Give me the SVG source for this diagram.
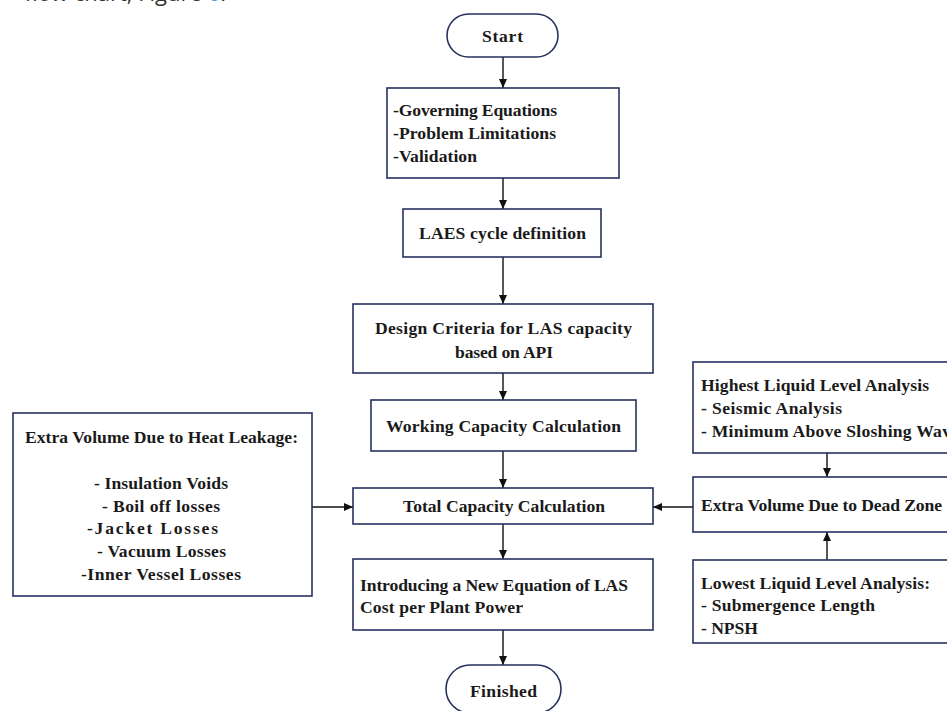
<svg xmlns="http://www.w3.org/2000/svg" width="947" height="711" viewBox="0 0 947 711">
<defs>
<marker id="ah" markerWidth="10" markerHeight="10" refX="9" refY="5" orient="auto" markerUnits="userSpaceOnUse">
<path d="M0,1 L9,5 L0,9 Z" fill="#111"/>
</marker>
<style>
.box{fill:#fff;stroke:#27315f;stroke-width:1.6}
.t{font-family:"Liberation Serif","Times New Roman",serif;font-weight:bold;font-size:17.6px;fill:#1a1a1a}
.c{text-anchor:middle}
.ln{stroke:#111;stroke-width:1.4;fill:none;marker-end:url(#ah)}
</style>
</defs>
<rect width="947" height="711" fill="#fff"/>
<text x="226" y="1" text-anchor="end" font-family="Open Sans, sans-serif" font-size="22" fill="#333">flow chart, Figure <tspan fill="#4a90d9">6</tspan>.</text>

<g id="connectors">
<line class="ln" x1="503" y1="57" x2="503" y2="88"/>
<line class="ln" x1="503" y1="178" x2="503" y2="209"/>
<line class="ln" x1="503" y1="257" x2="503" y2="304"/>
<line class="ln" x1="503" y1="373" x2="503" y2="400"/>
<line class="ln" x1="503" y1="451" x2="503" y2="488"/>
<line class="ln" x1="503" y1="524" x2="503" y2="559"/>
<line class="ln" x1="503" y1="630" x2="503" y2="665"/>
<line class="ln" x1="312" y1="507" x2="353" y2="507"/>
<line class="ln" x1="693" y1="507" x2="653" y2="507"/>
<line class="ln" x1="827" y1="453" x2="827" y2="477"/>
<line class="ln" x1="827" y1="560" x2="827" y2="532"/>
</g>

<g id="start">
<rect class="box" x="447" y="14" width="111" height="43" rx="21.5"/>
<text class="t c" x="502.5" y="42" textLength="41" lengthAdjust="spacing">Start</text>
</g>

<g id="governing">
<rect class="box" x="387" y="88" width="232" height="90"/>
<text class="t" x="393" y="116" textLength="164" lengthAdjust="spacing">-Governing Equations</text>
<text class="t" x="393" y="139" textLength="163" lengthAdjust="spacing">-Problem Limitations</text>
<text class="t" x="393" y="162" textLength="84" lengthAdjust="spacing">-Validation</text>
</g>

<g id="laes">
<rect class="box" x="403" y="209" width="198" height="48"/>
<text class="t c" x="502.5" y="239" textLength="167" lengthAdjust="spacing">LAES cycle definition</text>
</g>

<g id="design">
<rect class="box" x="353" y="304" width="300" height="69"/>
<text class="t c" x="503.5" y="334" textLength="257" lengthAdjust="spacing">Design Criteria for LAS capacity</text>
<text class="t c" x="504" y="358" textLength="98" lengthAdjust="spacing">based on API</text>
</g>

<g id="working">
<rect class="box" x="371" y="400" width="265" height="51"/>
<text class="t c" x="503.5" y="432" textLength="235" lengthAdjust="spacing">Working Capacity Calculation</text>
</g>

<g id="total">
<rect class="box" x="353" y="488" width="300" height="36"/>
<text class="t c" x="504" y="512" textLength="202" lengthAdjust="spacing">Total Capacity Calculation</text>
</g>

<g id="intro">
<rect class="box" x="353" y="559" width="300" height="71"/>
<text class="t" x="360" y="591" textLength="268" lengthAdjust="spacing">Introducing a New Equation of LAS</text>
<text class="t" x="360" y="613" textLength="163" lengthAdjust="spacing">Cost per Plant Power</text>
</g>

<g id="finished">
<rect class="box" x="446" y="665" width="115" height="48" rx="24"/>
<text class="t c" x="503.5" y="697" textLength="67" lengthAdjust="spacing">Finished</text>
</g>

<g id="heat">
<rect class="box" x="13" y="413" width="299" height="183"/>
<text class="t c" x="161.5" y="443" textLength="273" lengthAdjust="spacing">Extra Volume Due to Heat Leakage:</text>
<text class="t c" x="161" y="489" textLength="134" lengthAdjust="spacing">- Insulation Voids</text>
<text class="t c" x="161" y="512" textLength="118" lengthAdjust="spacing">- Boil off losses</text>
<text class="t c" x="152.5" y="534" textLength="131" lengthAdjust="spacing">-Jacket Losses</text>
<text class="t c" x="161.5" y="557" textLength="129" lengthAdjust="spacing">- Vacuum Losses</text>
<text class="t c" x="161" y="580" textLength="160" lengthAdjust="spacing">-Inner Vessel Losses</text>
</g>

<g id="highest">
<rect class="box" x="693" y="362" width="270" height="91"/>
<text class="t" x="701" y="391" textLength="228" lengthAdjust="spacing">Highest Liquid Level Analysis</text>
<text class="t" x="701" y="414" textLength="141" lengthAdjust="spacing">- Seismic Analysis</text>
<text class="t" x="701" y="437" textLength="258" lengthAdjust="spacing">- Minimum Above Sloshing Wave</text>
</g>

<g id="deadzone">
<rect class="box" x="693" y="477" width="270" height="55"/>
<text class="t" x="701" y="511" textLength="241" lengthAdjust="spacing">Extra Volume Due to Dead Zone</text>
</g>

<g id="lowest">
<rect class="box" x="693" y="560" width="270" height="83"/>
<text class="t" x="701" y="589" textLength="229" lengthAdjust="spacing">Lowest Liquid Level Analysis:</text>
<text class="t" x="701" y="611" textLength="174" lengthAdjust="spacing">- Submergence Length</text>
<text class="t" x="701" y="634" textLength="57" lengthAdjust="spacing">- NPSH</text>
</g>
</svg>
